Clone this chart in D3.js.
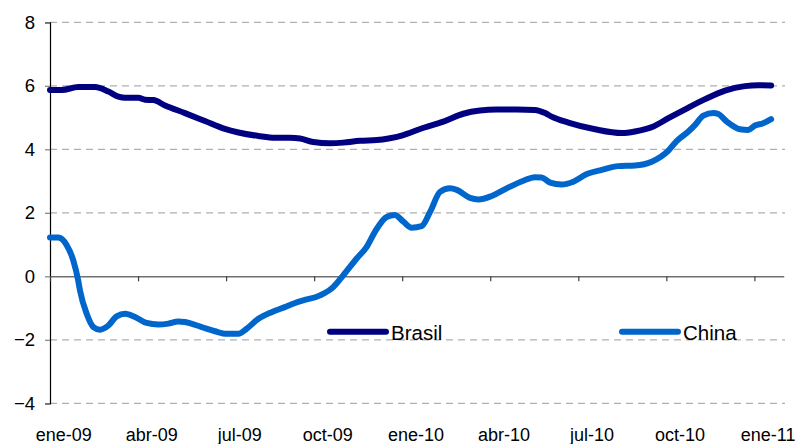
<!DOCTYPE html>
<html>
<head>
<meta charset="utf-8">
<script src="https://cdn.jsdelivr.net/npm/d3@7"></script>
<style>
  html, body { margin: 0; padding: 0; background: #fff; }
  svg { display: block; }
  text { font-family: "Liberation Sans", Arial, sans-serif; fill: #000; }
</style>
</head>
<body>
<svg id="chart" width="803" height="444"></svg>
<script>
// ---- data (month offset from ene-09, value) ----
const monthLabels = ["ene-09","abr-09","jul-09","oct-09","ene-10","abr-10","jul-10","oct-10","ene-11"];
const yTicks = [-4, -2, 0, 2, 4, 6, 8];

const brasilT = [0, 0.4, 0.96, 1.53, 1.99, 2.33, 2.56, 3.01, 3.24, 3.52, 3.92, 4.6, 5.28, 5.96, 6.42, 7.1, 7.67, 8.18,
  8.52, 8.97, 9.54, 9.99, 10.56, 11.13, 11.58, 12.04, 12.61, 13.4, 14.08, 14.65, 15.22, 15.9, 16.52,
  16.87, 17.09, 17.66, 18.57, 19.48, 19.93, 20.56, 21.07, 21.64, 22.32, 23.0, 23.68, 24.13, 24.57];
const brasilValues = [5.87, 5.87, 5.96, 5.96, 5.82, 5.66, 5.62, 5.62, 5.56, 5.55, 5.38, 5.14, 4.89, 4.64, 4.53, 4.42, 4.36, 4.36,
  4.34, 4.23, 4.19, 4.21, 4.27, 4.29, 4.35, 4.45, 4.64, 4.87, 5.12, 5.22, 5.25, 5.25, 5.24,
  5.14, 5.03, 4.84, 4.63, 4.51, 4.56, 4.72, 4.98, 5.26, 5.58, 5.85, 5.99, 6.02, 6.01];

const chinaT = [0, 0.28, 0.57, 0.79, 0.96, 1.02, 1.25, 1.48, 1.7, 1.99, 2.27, 2.56, 2.9, 3.29, 3.69, 4.03, 4.37, 4.6,
  5.17, 5.62, 6.02, 6.42, 6.7, 7.1, 7.55, 8.0, 8.35, 8.63, 9.2, 9.65, 9.99, 10.45, 10.79, 11.07, 11.47,
  11.75, 12.04, 12.32, 12.66, 12.95, 13.29, 13.63, 13.86, 14.31, 14.6, 15.05, 15.56, 16.13, 16.52, 16.75,
  17.04, 17.43, 17.83, 18.29, 18.8, 19.36, 19.93, 20.5, 21.07, 21.35, 21.75, 21.98, 22.26, 22.6, 22.77,
  23.06, 23.51, 23.79, 24.02, 24.3, 24.57];
const chinaValues = [1.22, 1.22, 0.98, 0.51, -0.13, -0.44, -1.18, -1.6, -1.68, -1.55, -1.26, -1.18, -1.28, -1.47, -1.52, -1.49, -1.42, -1.44,
  -1.6, -1.73, -1.81, -1.81, -1.65, -1.34, -1.13, -0.97, -0.84, -0.76, -0.6, -0.34, 0.03, 0.56, 0.93, 1.4, 1.87,
  1.93, 1.72, 1.53, 1.58, 2.03, 2.66, 2.77, 2.72, 2.47, 2.42, 2.53, 2.77, 3.01, 3.12, 3.11,
  2.95, 2.89, 2.98, 3.22, 3.35, 3.47, 3.49, 3.61, 3.96, 4.26, 4.56, 4.77, 5.06, 5.14, 5.11,
  4.87, 4.63, 4.61, 4.75, 4.82, 4.95];

const seriesNames = ["Brasil", "China"];
const seriesColors = ["#000080", "#0066CC"];

// ---- layout ----
const svg = d3.select("#chart");
const x = d3.scaleLinear().domain([0, 25]).range([50, 783.75]);
const y = d3.scaleLinear().domain([-4, 8]).range([403.3, 22.3]);

// gridlines (dashed) except zero
svg.append("g")
  .selectAll("line")
  .data(yTicks.filter(v => v !== 0))
  .join("line")
  .attr("x1", x(0)).attr("x2", 785)
  .attr("y1", d => y(d)).attr("y2", d => y(d))
  .attr("stroke", "#b0b0b0")
  .attr("stroke-width", 1.2)
  .attr("stroke-dasharray", "7,5");

// y axis
const yAxis = svg.append("g")
  .attr("transform", `translate(${x(0)},0)`)
  .call(d3.axisLeft(y).tickValues(yTicks).tickFormat(d3.format("d")).tickSize(5).tickPadding(10));
yAxis.select(".domain").attr("stroke", "#000").attr("stroke-width", 1.2);
yAxis.selectAll(".tick line").attr("stroke", "#808080").attr("stroke-width", 1.2);
yAxis.selectAll(".tick text").style("font-size", "18.5px").style("font-family", "Liberation Sans, Arial, sans-serif");

// zero axis line with category boundary ticks
const zeroAxis = svg.append("g")
  .attr("transform", `translate(0,${y(0)})`)
  .call(d3.axisBottom(x).tickValues(d3.range(0, 25, 3)).tickFormat("").tickSize(5).tickSizeOuter(0));
zeroAxis.select(".domain").attr("stroke", "#707070").attr("stroke-width", 1.4);
zeroAxis.selectAll(".tick line").attr("stroke", "#404040").attr("stroke-width", 1.2);

// x labels at category centers (bottom)
const labelAxis = svg.append("g")
  .attr("transform", `translate(0,428.5)`)
  .call(d3.axisBottom(x)
    .tickValues(monthLabels.map((_, i) => i * 3 + 0.45))
    .tickFormat((d, i) => monthLabels[i])
    .tickSize(0).tickPadding(0));
labelAxis.select(".domain").remove();
labelAxis.selectAll(".tick text").style("font-size", "18px").style("font-family", "Liberation Sans, Arial, sans-serif");

// lines
const line = d3.line().x(d => x(d[0])).y(d => y(d[1])).curve(d3.curveMonotoneX);
const brasilData = brasilT.map((t, i) => [t, brasilValues[i]]);
const chinaData = chinaT.map((t, i) => [t, chinaValues[i]]);

svg.append("path").datum(chinaData)
  .attr("d", line).attr("fill", "none")
  .attr("stroke", seriesColors[1]).attr("stroke-width", 6)
  .attr("stroke-linejoin", "round").attr("stroke-linecap", "round");
svg.append("path").datum(brasilData)
  .attr("d", line).attr("fill", "none")
  .attr("stroke", seriesColors[0]).attr("stroke-width", 6)
  .attr("stroke-linejoin", "round").attr("stroke-linecap", "round");

// legend
const legendX = [330, 622];
const legend = svg.append("g");
seriesNames.forEach((name, i) => {
  legend.append("line")
    .attr("x1", legendX[i]).attr("x2", legendX[i] + 56)
    .attr("y1", 331.7).attr("y2", 331.7)
    .attr("stroke", seriesColors[i]).attr("stroke-width", 6)
    .attr("stroke-linecap", "round");
  legend.append("text")
    .attr("x", legendX[i] + 61).attr("y", 339.5)
    .style("font-size", "20.5px")
    .text(name);
});
</script>
</body>
</html>
